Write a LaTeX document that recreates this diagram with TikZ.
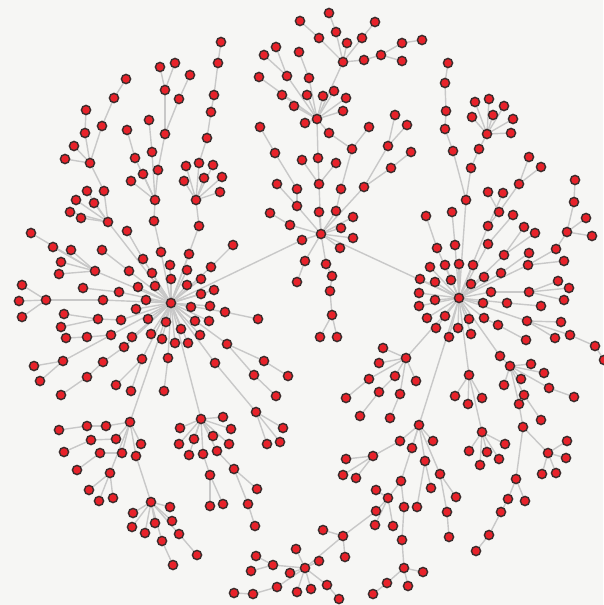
\documentclass[tikz,border=0pt]{standalone}
\definecolor{bgc}{HTML}{F6F6F4}
\definecolor{nodered}{HTML}{E8222A}
\definecolor{nodeedge}{HTML}{3A2C2C}
\definecolor{edgegray}{HTML}{C8C8C8}
\tikzset{
  vx/.style={circle, fill=nodered, draw=nodeedge, line width=1.4pt, inner sep=0pt, minimum size=9.2pt},
  ed/.style={draw=edgegray, line width=1.4pt}
}
% pass 1: named coordinates and connectors; pass 2: visible nodes on top
\newcommand\fanedges[3]{%
  \foreach \qa/\qb in {#3}{%
    \coordinate (n\qa x\qb) at (\qa,\qb);
    \draw[ed] (n#1x#2) -- (n\qa x\qb);
  }}
\newcommand\fannodes[3]{%
  \foreach \qa/\qb in {#3}{%
    \node[vx] (n\qa x\qb) at (\qa,\qb) {};
  }}
\newcommand\graphbody{%
\fan{171}{303}{302/240, 95/271, 103/300, 121/320, 111/335, 124/347, 142/359, 168/358, 129/271, 143/259, 161/252, 119/292, 108/222, 199/226, 189/254, 211/267, 214/290, 210/306, 209/321, 225/312, 227/344, 215/363, 201/419, 130/422, 138/287, 146/300, 136/309, 148/319, 155/286, 152/273, 170/265, 171/279, 187/270, 187/285, 201/279, 201/294, 191/307, 195/321, 181/329, 166/322, 151/334, 162/339, 175/343, 188/343, 200/335, 132/337}
\fan{302}{240}{321/234}
\fan{95}{271}{31/233, 53/247, 71/250, 61/262, 59/274}
\fan{103}{300}{46/300}
\fan{46}{300}{22/285, 19/301, 22/317}
\fan{121}{320}{98/319}
\fan{98}{319}{64/314, 61/327}
\fan{111}{335}{87/337, 63/361}
\fan{87}{337}{66/338}
\fan{63}{361}{34/366, 40/381}
\fan{124}{347}{103/362}
\fan{103}{362}{87/377}
\fan{87}{377}{61/395}
\fan{142}{359}{116/385, 131/391}
\fan{168}{358}{164/391}
\fan{129}{271}{102/250}
\fan{119}{292}{83/288}
\fan{143}{259}{127/231}
\fan{161}{252}{154/221}
\fan{154}{221}{155/200}
\fan{155}{200}{158/170, 152/152, 135/158, 143/174, 131/181}
\fan{158}{170}{165/134}
\fan{165}{134}{165/90, 179/99}
\fan{165}{90}{160/67, 175/63}
\fan{179}{99}{190/75}
\fan{152}{152}{149/120}
\fan{135}{158}{127/130}
\fan{108}{222}{104/191, 87/191, 76/200, 94/203, 70/212, 81/218}
\fan{104}{191}{90/163}
\fan{90}{163}{102/126, 85/133, 74/146, 65/159}
\fan{102}{126}{114/98}
\fan{114}{98}{126/79}
\fan{85}{133}{86/110}
\fan{199}{226}{196/200}
\fan{196}{200}{199/163, 186/166, 184/181, 213/165, 204/178, 222/177, 220/192}
\fan{199}{163}{207/138}
\fan{207}{138}{211/112}
\fan{211}{112}{214/95}
\fan{214}{95}{218/63}
\fan{218}{63}{221/42}
\fan{211}{267}{233/245}
\fan{225}{312}{258/319}
\fan{227}{344}{264/361, 254/375}
\fan{264}{361}{288/376}
\fan{254}{375}{276/396}
\fan{215}{363}{256/412}
\fan{256}{412}{283/428, 267/444, 280/442}
\fan{201}{419}{223/417, 231/429, 213/436, 229/444, 203/454, 217/451, 180/428, 179/444, 194/439, 189/455}
\fan{203}{454}{210/475}
\fan{210}{475}{210/506, 223/504}
\fan{217}{451}{234/469}
\fan{234}{469}{257/489, 248/504}
\fan{248}{504}{255/526}
\fan{130}{422}{106/426, 116/439, 122/453, 141/444, 136/456, 110/473}
\fan{106}{426}{87/426}
\fan{87}{426}{59/430}
\fan{116}{439}{91/440}
\fan{91}{440}{64/452}
\fan{122}{453}{100/453}
\fan{100}{453}{77/470}
\fan{110}{473}{89/490, 99/501, 113/498}
\fan{136}{456}{151/502}
\fan{151}{502}{133/513, 170/507, 132/527, 145/533, 155/523, 172/521, 162/541, 179/534}
\fan{162}{541}{173/565}
\fan{179}{534}{197/555}
\fan{321}{234}{297/206, 319/212, 336/211, 353/217, 341/228, 353/238, 340/248, 290/225, 305/261, 326/264, 364/187, 319/184, 459/298}
\fan{297}{206}{297/189, 277/184}
\fan{297}{189}{275/153}
\fan{275}{153}{260/127}
\fan{290}{225}{270/213}
\fan{305}{261}{297/282}
\fan{326}{264}{332/276}
\fan{332}{276}{330/291}
\fan{330}{291}{332/315}
\fan{332}{315}{320/337, 337/337}
\fan{364}{187}{388/146, 391/168}
\fan{388}{146}{395/115, 407/125}
\fan{391}{168}{411/152}
\fan{319}{184}{318/158, 302/160, 336/163}
\fan{318}{158}{317/119}
\fan{336}{211}{341/189}
\fan{341}{189}{352/149}
\fan{352}{149}{369/127, 329/133}
\fan{317}{119}{259/77, 287/76, 309/78, 282/95, 307/95, 323/96, 334/91, 346/98, 343/111, 294/106, 305/123, 343/62}
\fan{287}{76}{276/47, 264/55}
\fan{309}{78}{299/52}
\fan{343}{62}{319/38, 336/32, 347/43, 362/38, 364/60}
\fan{319}{38}{300/21}
\fan{336}{32}{329/13}
\fan{362}{38}{375/22}
\fan{364}{60}{381/55}
\fan{381}{55}{402/43, 402/61}
\fan{402}{43}{422/40}
\fan{459}{298}{466/200, 437/248, 455/245, 430/267, 445/265, 459/264, 473/265, 484/277, 420/279, 435/282, 451/280, 471/284, 419/293, 435/300, 419/306, 427/318, 436/328, 445/316, 449/337, 458/328, 469/319, 471/334, 483/303, 491/292, 501/273, 488/244, 488/226, 504/255, 528/265, 507/303, 527/321, 484/318, 500/356, 469/375, 406/358, 419/425}
\fan{466}{200}{471/168, 453/151}
\fan{471}{168}{479/149}
\fan{479}{149}{487/134}
\fan{487}{134}{475/102, 489/99, 504/106, 472/117, 493/115, 513/119, 511/133}
\fan{453}{151}{445/129}
\fan{445}{129}{446/111}
\fan{446}{111}{445/83}
\fan{445}{83}{448/63}
\fan{437}{248}{426/216}
\fan{455}{245}{452/212}
\fan{488}{226}{499/212, 503/193}
\fan{499}{212}{519/184, 488/192}
\fan{519}{184}{529/157, 541/167}
\fan{488}{244}{513/215}
\fan{504}{255}{524/227, 535/233}
\fan{501}{273}{529/253}
\fan{528}{265}{564/261, 556/249}
\fan{556}{249}{567/232}
\fan{567}{232}{574/202, 586/218, 592/236}
\fan{574}{202}{575/180}
\fan{491}{292}{529/292}
\fan{529}{292}{558/281, 569/288, 564/300}
\fan{507}{303}{541/306}
\fan{527}{321}{561/322, 555/338, 570/335}
\fan{570}{335}{595/346}
\fan{595}{346}{604/360}
\fan{484}{318}{498/325}
\fan{498}{325}{526/340}
\fan{500}{356}{510/366}
\fan{510}{366}{531/364, 544/373, 549/388, 521/379, 524/395, 504/385, 519/404}
\fan{549}{388}{574/397}
\fan{524}{395}{541/420}
\fan{519}{404}{523/427}
\fan{523}{427}{548/453, 516/479}
\fan{548}{453}{567/441, 566/458, 542/474, 556/473}
\fan{516}{479}{508/499, 525/501}
\fan{508}{499}{501/512}
\fan{501}{512}{489/535}
\fan{489}{535}{476/551}
\fan{469}{375}{455/396, 468/404, 482/398, 482/432}
\fan{482}{432}{469/451, 487/452, 505/444, 499/459, 480/465}
\fan{406}{358}{383/348, 379/363, 369/379, 395/376, 416/381, 400/394}
\fan{369}{379}{346/398}
\fan{395}{376}{379/392}
\fan{379}{392}{360/416}
\fan{400}{394}{390/418}
\fan{419}{425}{400/441, 412/448, 433/441, 425/461, 440/474, 401/481}
\fan{400}{441}{373/456}
\fan{373}{456}{346/459, 343/475, 356/478}
\fan{425}{461}{431/488, 417/507}
\fan{440}{474}{456/497, 447/512}
\fan{447}{512}{449/537}
\fan{401}{481}{388/498, 404/507}
\fan{404}{507}{402/540}
\fan{402}{540}{404/568}
\fan{404}{568}{423/572, 408/586, 387/583}
\fan{387}{583}{373/594}
\fan{388}{498}{376/490, 375/525, 393/526, 376/511}
\fan{376}{511}{343/536}
\fan{343}{536}{323/530, 345/557, 305/568}
\fan{305}{568}{296/549, 319/561, 290/573, 297/592, 311/589, 327/585, 273/565, 277/587}
\fan{327}{585}{339/599}
\fan{273}{565}{256/556, 251/571}
\fan{277}{587}{253/594}
\fan{253}{594}{234/593}
}
\begin{document}
\begin{tikzpicture}[x=1pt,y=-1pt]
\fill[bgc] (0,0) rectangle (603,605);
\useasboundingbox (0,0) rectangle (603,605);
% connectors
\coordinate (n171x303) at (171,303);
\let\fan\fanedges
\graphbody
\draw[ed] (n329x133) -- (n317x119);
% nodes
\node[vx] (n171x303) at (171,303) {};
\let\fan\fannodes
\graphbody
\end{tikzpicture}
\end{document}
